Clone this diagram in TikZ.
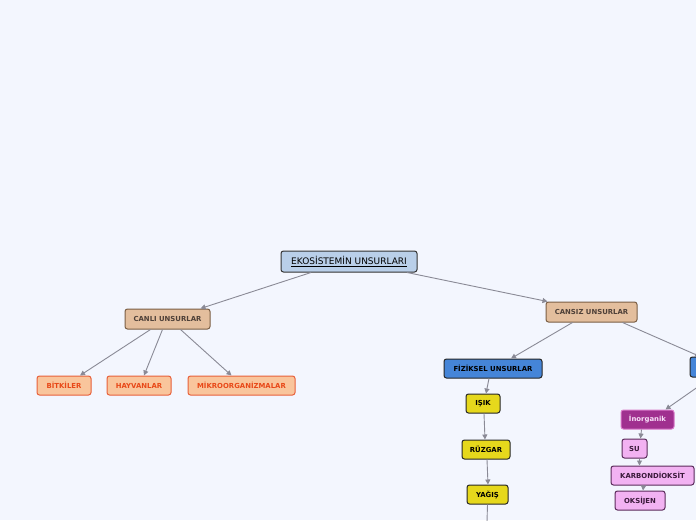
\documentclass[tikz,border=0pt]{standalone}
\usepackage{fontspec}
\setmainfont{DejaVu Sans}
\usetikzlibrary{arrows.meta}
\definecolor{bg}{HTML}{F3F6FE}
\definecolor{edgec}{HTML}{8A8A96}
\definecolor{rootf}{HTML}{B9CFE9}
\definecolor{tanf}{HTML}{E3BE9D}
\definecolor{tand}{HTML}{7A5E44}
\definecolor{tant}{HTML}{4E4038}
\definecolor{peachf}{HTML}{F9C59C}
\definecolor{peachd}{HTML}{E8603A}
\definecolor{peacht}{HTML}{E84818}
\definecolor{bluef}{HTML}{4585D8}
\definecolor{yelf}{HTML}{E6D81C}
\definecolor{purf}{HTML}{A0308F}
\definecolor{purd}{HTML}{D878C8}
\definecolor{purt}{HTML}{F8E0F8}
\definecolor{pinkf}{HTML}{F2B2F2}
\definecolor{pinkd}{HTML}{5A2A5A}
\definecolor{pinkt}{HTML}{3A1A3A}
\tikzset{
  box/.style={rounded corners=2.5pt, line width=1pt, inner sep=0pt, font=\fontsize{6.9}{8}\selectfont\bfseries},
  rootbox/.style={box, fill=rootf, draw=black!80, font=\fontsize{9}{10}\selectfont, minimum width=136pt, minimum height=21pt},
  tanbox/.style={box, fill=tanf, draw=tand, text=tant, minimum height=20pt},
  peachbox/.style={box, fill=peachf, draw=peachd, text=peacht, minimum height=19pt},
  bluebox/.style={box, fill=bluef, draw=black!85, text=black, minimum height=19pt},
  yelbox/.style={box, fill=yelf, draw=black!85, text=black, minimum height=19pt},
  purbox/.style={box, fill=purf, draw=purd, text=purt, minimum height=19pt},
  pinkbox/.style={box, fill=pinkf, draw=pinkd, text=pinkt, minimum height=19pt},
  conn/.style={draw=edgec, line width=0.9pt, -{Triangle[width=5pt,length=5pt]}},
  plain/.style={draw=edgec, line width=0.9pt}
}
\begin{document}
\begin{tikzpicture}[x=1pt,y=-1pt]
\useasboundingbox (0,0) rectangle (696,520);
\fill[bg] (0,0) rectangle (696,520);
\clip (0,0) rectangle (696,520);

\node[rootbox] (root) at (349,261.5) {\underline{EKOSİSTEMİN UNSURLARI}};
\node[tanbox, minimum width=85pt] (canli) at (167.5,319) {CANLI UNSURLAR};
\node[tanbox, minimum width=91pt] (cansiz) at (591.5,312) {CANSIZ UNSURLAR};
\node[peachbox, minimum width=54pt] (bitki) at (64,385.5) {BİTKİLER};
\node[peachbox, minimum width=64pt] (hayvan) at (139,385.5) {HAYVANLAR};
\node[peachbox, minimum width=107pt] (mikro) at (241.5,385.5) {MİKROORGANİZMALAR};
\node[bluebox, minimum width=98pt] (fizik) at (493,368.5) {FİZİKSEL UNSURLAR};
\node[bluebox, minimum width=100pt, minimum height=20pt] (kimya) at (740,367) {};
\node[yelbox, minimum width=34pt] (isik) at (483,403.5) {IŞIK};
\node[yelbox, minimum width=48pt] (ruzgar) at (486,449.5) {RÜZGAR};
\node[yelbox, minimum width=41pt] (yagis) at (487.5,494.5) {YAĞIŞ};
\node[purbox, minimum width=53pt] (inorg) at (647.5,419.5) {İnorganik};
\node[pinkbox, minimum width=25pt] (su) at (634.5,448.5) {SU};
\node[pinkbox, minimum width=83pt] (karbon) at (652.5,475.5) {KARBONDİOKSİT};
\node[pinkbox, minimum width=50pt] (oksijen) at (640,500.5) {OKSİJEN};

\coordinate (kimyaout) at (712,377);
\coordinate (yagisend) at (487,522);

\draw[conn] ([xshift=-38pt]root.south) -- ([xshift=33pt]canli.north);
\draw[conn] ([xshift=58pt]root.south) -- ([xshift=-44pt]cansiz.north);
\draw[conn] ([xshift=-17pt]canli.south) -- ([xshift=16pt]bitki.north);
\draw[conn] ([xshift=-5pt]canli.south) -- ([xshift=5pt]hayvan.north);
\draw[conn] ([xshift=13pt]canli.south) -- ([xshift=-10pt]mikro.north);
\draw[conn] ([xshift=-19pt]cansiz.south) -- ([xshift=18pt]fizik.north);
\draw[conn] ([xshift=31pt]cansiz.south) -- ([xshift=-40pt]kimya.north);
\draw[conn] (kimyaout) -- ([xshift=18pt]inorg.north);
\draw[conn] ([xshift=-4pt]fizik.south) -- ([xshift=3pt]isik.north);
\draw[conn] ([xshift=1pt]isik.south) -- ([xshift=-1pt]ruzgar.north);
\draw[conn] ([xshift=1pt]ruzgar.south) -- ([xshift=0.5pt]yagis.north);
\draw[plain] (yagis.south) -- (yagisend);
\draw[conn] ([xshift=-6pt]inorg.south) -- ([xshift=6pt]su.north);
\draw[conn] ([xshift=5pt]su.south) -- ([xshift=-13pt]karbon.north);
\draw[conn] ([xshift=-9pt]karbon.south) -- ([xshift=3pt]oksijen.north);
\end{tikzpicture}
\end{document}
